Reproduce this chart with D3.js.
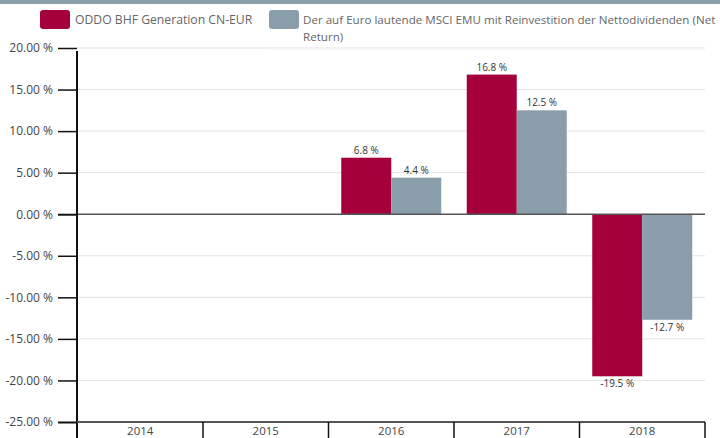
<!DOCTYPE html>
<html><head><meta charset="utf-8">
<script src="https://cdn.jsdelivr.net/npm/d3@7"></script>
<style>body{margin:0;background:#fff;overflow:hidden}svg{display:block;font-family:"Open Sans",sans-serif}</style>
</head><body><svg id="c" width="720" height="438"></svg>
<script>
const categories = ["2014","2015","2016","2017","2018"];
const seriesNames = ["ODDO BHF Generation CN-EUR","Der auf Euro lautende MSCI EMU mit Reinvestition der Nettodividenden (Net Return)"];
const fundValues = [null,null,6.8,16.8,-19.5];
const indexValues = [null,null,4.4,12.5,-12.7];
const yTicks = [20,15,10,5,0,-5,-10,-15,-20,-25];
const colors = ["#a5003c","#8a9dab"];

const hy = s => s.replace("\u2212","-");
const svg = d3.select("#c");
svg.append("rect").attr("x",0).attr("y",0).attr("width",720).attr("height",4).attr("fill","#8a9dab");

const x = d3.scaleBand().domain(categories).range([77.5,705]);
const y = d3.scaleLinear().domain([-25,20]).range([422,48]);

// gridlines
svg.append("g").selectAll("line").data(yTicks.filter(t=>t!==0&&t!==-25)).join("line")
  .attr("x1",77).attr("x2",705).attr("y1",d=>y(d)).attr("y2",d=>y(d))
  .attr("stroke","#e3e3e3").attr("stroke-width",1);

// bars
const series = [fundValues, indexValues];
const bw = 50, pad = (x.bandwidth()-2*bw)/2;
series.forEach((vals,si)=>{
  const data = categories.map((c,i)=>({c,v:vals[i]})).filter(d=>d.v!==null);
  svg.append("g").selectAll("rect").data(data).join("rect")
    .attr("x",d=>x(d.c)+pad+si*bw).attr("width",bw)
    .attr("y",d=>y(Math.max(0,d.v))).attr("height",d=>Math.abs(y(d.v)-y(0)))
    .attr("fill",colors[si]);
  svg.append("g").selectAll("text").data(data).join("text")
    .attr("x",d=>x(d.c)+pad+si*bw+bw/2)
    .attr("y",d=>d.v>=0? y(d.v)-4 : y(d.v)+11)
    .attr("text-anchor","middle").attr("font-size",10).attr("fill","#333")
    .text(d=>hy(d3.format(".1f")(d.v))+" %");
});

// zero line
svg.append("line").attr("x1",77).attr("x2",705).attr("y1",y(0)).attr("y2",y(0)).attr("stroke","#555").attr("stroke-width",1.5);

// y axis
const ya = d3.axisLeft(y).tickValues(yTicks).tickSize(19).tickPadding(5).tickFormat(d=>hy(d3.format(".2f")(d))+" %");
const gy = svg.append("g").attr("transform","translate(77,0)").call(ya);
gy.select(".domain").remove();
gy.selectAll(".tick line").attr("stroke","#111").attr("stroke-width",d=>d===0||d===-25?2:1.5);
gy.selectAll(".tick text").attr("font-size",12).attr("fill","#444").attr("font-family","Open Sans");
svg.append("line").attr("x1",77).attr("x2",77).attr("y1",51).attr("y2",438).attr("stroke","#111").attr("stroke-width",2);

// bottom axis
svg.append("line").attr("x1",77).attr("x2",705).attr("y1",y(-25)).attr("y2",y(-25)).attr("stroke","#555").attr("stroke-width",2);
const dividers = categories.slice(1).map(c=>x(c)).concat([x.range()[1]]);
svg.append("g").selectAll("line").data(dividers).join("line")
  .attr("x1",d=>d).attr("x2",d=>d).attr("y1",422).attr("y2",438).attr("stroke","#111").attr("stroke-width",1.5);
svg.append("g").selectAll("text").data(categories).join("text")
  .attr("x",d=>x(d)+x.bandwidth()/2).attr("y",434.5).attr("text-anchor","middle")
  .attr("font-size",11.5).attr("fill","#444").text(d=>d);

// legend
const lg = svg.append("g");
lg.append("rect").attr("x",40).attr("y",10).attr("width",30).attr("height",19).attr("rx",3).attr("fill",colors[0]);
lg.append("text").attr("x",75).attr("y",24).attr("font-size",12.2).attr("fill","#666").text(seriesNames[0]);
lg.append("rect").attr("x",269).attr("y",10).attr("width",30).attr("height",19).attr("rx",3).attr("fill",colors[1]);
const words = seriesNames[1].split(" ");
lg.append("text").attr("x",303).attr("y",24).attr("font-size",11.6).attr("fill","#666").text(words.slice(0,-1).join(" "));
lg.append("text").attr("x",303).attr("y",41).attr("font-size",11.6).attr("fill","#666").text(words[words.length-1]);
lg.append("line").attr("x1",270).attr("x2",705).attr("y1",49).attr("y2",49).attr("stroke","#f0f0f0");
</script></body></html>
